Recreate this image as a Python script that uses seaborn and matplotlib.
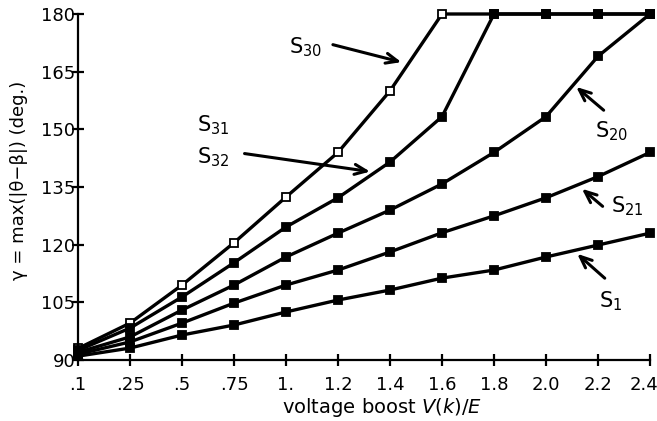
import matplotlib
matplotlib.use("Agg")
import matplotlib.pyplot as plt
import matplotlib.transforms as mtransforms
import numpy as np
import pandas as pd
import seaborn as sns

# voltage boost categories (evenly spaced on the axis)
x_labels = [".1", ".25", ".5", ".75", "1.", "1.2", "1.4", "1.6", "1.8", "2.0", "2.2", "2.4"]

# gamma = max(|theta - beta|) in degrees
s30 = [93.0, 99.6, 109.5, 120.5, 132.4, 144.0, 160.0, 180.0, 180.0, 180.0, 180.0, 180.0]
s31 = [92.5, 98.3, 106.4, 115.3, 124.6, 132.2, 141.5, 153.3, 180.0, 180.0, 180.0, 180.0]
s20 = [92.0, 96.0, 103.0, 109.5, 116.8, 123.0, 129.0, 135.8, 144.0, 153.3, 169.0, 180.0]
s21 = [91.5, 94.7, 99.6, 104.8, 109.5, 113.4, 118.1, 123.1, 127.5, 132.2, 137.7, 144.0]
s1 = [91.0, 93.1, 96.5, 99.1, 102.5, 105.6, 108.2, 111.3, 113.4, 116.8, 119.9, 123.0]

y_ticks = [90, 105, 120, 135, 150, 165, 180]

sns.set_theme(style="ticks")
plt.rcParams["font.family"] = ["DejaVu Sans"]
plt.rcParams["mathtext.fontset"] = "dejavusans"
for key in ["text.color", "axes.labelcolor", "xtick.color", "ytick.color", "axes.edgecolor"]:
    plt.rcParams[key] = "black"

fig = plt.figure(figsize=(6.57, 4.21), dpi=100)
ax = fig.add_axes([78 / 657, 1 - 360 / 421, 572 / 657, 346 / 421])

pos = np.arange(len(x_labels))
series = [("S30", s30, "white"), ("S31", s31, "black"), ("S20", s20, "black"),
          ("S21", s21, "black"), ("S1", s1, "black")]

for name, vals, face in series:
    df = pd.DataFrame({"x": pos, "y": vals})
    sns.lineplot(data=df, x="x", y="y", ax=ax, color="black", lw=2.4,
                 marker="s", markersize=5.5, markerfacecolor=face,
                 markeredgecolor="black", markeredgewidth=1.3, clip_on=False)

ax.set_xlim(0, len(x_labels) - 1)
ax.set_ylim(90, 180)
ax.set_xticks(pos)
ax.set_xticklabels(x_labels)
ax.set_yticks(y_ticks)
ax.tick_params(axis="y", direction="inout", length=9, width=1.6, pad=-2.5, labelsize=13)
ax.tick_params(axis="x", direction="inout", length=9, width=1.6, pad=7, labelsize=13)
for side in ["left", "bottom"]:
    ax.spines[side].set_linewidth(1.6)
sns.despine(ax=ax)

# keep the last tick label inside the picture
last = ax.get_xticklabels()[-1]
last.set_horizontalalignment("right")
last.set_transform(last.get_transform() + mtransforms.ScaledTranslation(6 / 72, 0, fig.dpi_scale_trans))

ax.set_xlabel("voltage boost $V(k)/E$", fontsize=14)
ax.xaxis.set_label_coords(0.531, -0.104)
ax.set_ylabel("γ = max(|θ−β|) (deg.)", fontsize=13)
ax.yaxis.set_label_coords(-0.088, 0.52)

arrow = dict(arrowstyle="->,head_length=0.7,head_width=0.3", color="black", lw=2.2)
ax.text(4.37, 171.4, "S$_{30}$", fontsize=15, ha="center", va="center")
ax.annotate("", xy=(6.27, 167.3), xytext=(4.85, 172.2), arrowprops=arrow)
ax.text(2.6, 151.1, "S$_{31}$", fontsize=15, ha="center", va="center")
ax.text(2.6, 142.8, "S$_{32}$", fontsize=15, ha="center", va="center")
ax.annotate("", xy=(5.67, 138.9), xytext=(3.15, 143.8), arrowprops=arrow)
ax.text(10.27, 149.6, "S$_{20}$", fontsize=15, ha="center", va="center")
ax.annotate("", xy=(9.54, 161.5), xytext=(10.15, 154.5), arrowprops=arrow)
ax.text(10.56, 130.1, "S$_{21}$", fontsize=15, ha="center", va="center")
ax.annotate("", xy=(9.65, 135.0), xytext=(10.13, 129.5), arrowprops=arrow)
ax.text(10.25, 105.3, "S$_{1}$", fontsize=15, ha="center", va="center")
ax.annotate("", xy=(9.56, 118.1), xytext=(10.17, 110.8), arrowprops=arrow)

fig.savefig("out.png", dpi=100)
